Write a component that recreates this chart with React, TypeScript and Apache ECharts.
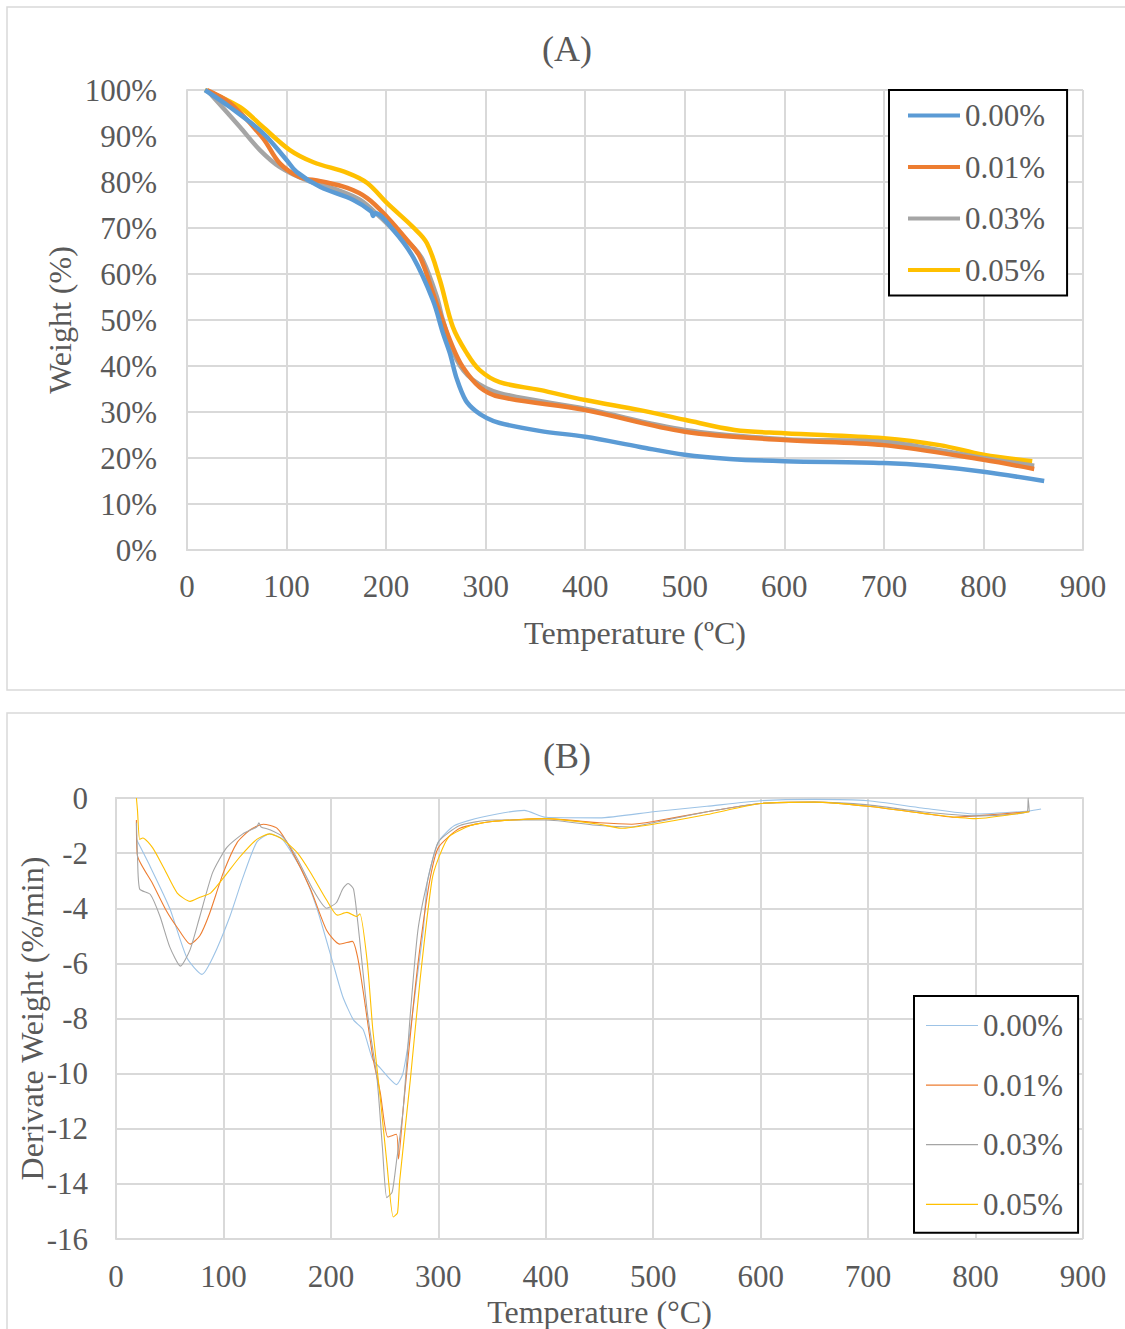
import React, { useEffect, useRef } from "react";
import * as echarts from "echarts";

// ---- Chart (A): TGA weight (%) vs temperature (°C)
const tgaNames = ["0.00%", "0.01%", "0.03%", "0.05%"];
const tga000 = [[18,100],[43,96.3],[76,90.7],[100,84.8],[110,82.2],[134,78.9],[167,76.1],[185,73.6],[187,72.6],[189,73.2],[207,69.6],[227,63.7],[247,54.3],[257,47.2],[264,42.8],[271,37.2],[280,32.5],[290,30.2],[301,28.7],[314,27.6],[354,25.9],[400,24.6],[455,22.4],[500,20.7],[545,19.8],[600,19.3],[700,18.9],[746,18.3],[800,17],[861,15]];
const tga001 = [[20,100],[43,97.2],[76,89.6],[93,84.1],[113,81.1],[134,80.2],[161,78.7],[181,76.5],[201,72.4],[221,67.4],[234,63.7],[247,55.9],[254,51.5],[267,44.1],[277,39.8],[294,35.4],[314,33.3],[400,30.4],[500,25.7],[600,23.9],[700,22.8],[800,19.6],[851,17.6]];
const tga003 = [[20,100],[53,92],[73,87],[93,83.3],[120,80.4],[151,78.3],[174,76.1],[194,72.4],[211,68.9],[227,65.9],[237,63],[251,55],[257,50],[271,41.3],[287,37],[314,34.1],[400,30.7],[500,26.1],[600,24.1],[700,23.5],[800,20],[851,18.3]];
const tga005 = [[18,100],[53,96.3],[76,92],[103,87],[127,84.3],[161,82],[181,79.8],[201,75.4],[227,70.2],[241,66.7],[254,58.7],[267,48.5],[281,42.8],[294,39.1],[314,36.5],[354,34.8],[400,32.6],[455,30.4],[500,28.3],[550,26.1],[600,25.4],[700,24.3],[756,22.8],[800,20.7],[849,19.3]];

// ---- Chart (B): DTG derivative weight (%/min) vs temperature (°C)
const dtg000 = [[19,-1.5],[32,-2.5],[50,-4],[66,-5.8],[80,-6.4],[90,-5.8],[106,-4.3],[118,-2.9],[131,-1.6],[143,-1.3],[155,-1.5],[174,-2.7],[187,-4],[202,-6],[211,-7.2],[221,-8.05],[230,-8.4],[239,-9.5],[246,-9.8],[255,-10.2],[261,-10.4],[267,-10],[274,-8.4],[280,-6.6],[286,-4.8],[290,-3],[300,-1.6],[315,-1.0],[340,-0.7],[380,-0.45],[400,-0.7],[450,-0.72],[500,-0.5],[550,-0.3],[600,-0.1],[650,-0.05],[700,-0.1],[750,-0.36],[800,-0.58],[850,-0.47],[861,-0.4]];
const dtg001 = [[19,-0.8],[20,-2.1],[34,-3.1],[47,-4.1],[57,-4.7],[69,-5.3],[78,-5],[87,-4.2],[100,-2.7],[113,-1.6],[125,-1.15],[137,-0.95],[150,-1.1],[162,-1.8],[181,-3.3],[196,-4.8],[208,-5.3],[220,-5.2],[225,-5.8],[230,-7],[239,-9.4],[246,-10.7],[253,-12.3],[261,-12.2],[263,-13.1],[267,-11.4],[276,-7.8],[283,-5.4],[292,-3],[300,-1.8],[320,-1.1],[350,-0.85],[400,-0.75],[450,-0.9],[480,-0.95],[500,-0.85],[550,-0.5],[600,-0.2],[650,-0.15],[700,-0.3],[750,-0.55],[780,-0.7],[800,-0.65],[850,-0.5]];
const dtg003 = [[19,-0.9],[20,-2.1],[22,-3.3],[32,-3.5],[41,-4.3],[50,-5.4],[60,-6.1],[69,-5.5],[78,-4.3],[90,-2.7],[103,-1.8],[118,-1.3],[131,-1.05],[133,-0.9],[135,-1.05],[143,-1.15],[155,-1.4],[168,-2.15],[183,-3.3],[196,-4],[205,-3.8],[211,-3.3],[216,-3.1],[221,-3.3],[225,-4.5],[234,-7.8],[243,-10.2],[248,-12.7],[252,-14.5],[257,-14.3],[261,-13.2],[267,-11.4],[274,-7.8],[281,-4.8],[290,-3],[300,-1.6],[320,-1.0],[350,-0.8],[400,-0.8],[450,-1.0],[480,-1.05],[500,-0.9],[550,-0.5],[600,-0.2],[650,-0.15],[700,-0.25],[750,-0.5],[800,-0.65],[848,-0.5],[849,0],[850,-0.5]];
const dtg005 = [[19,0],[20,-0.45],[22,-1.5],[25,-1.45],[34,-1.8],[44,-2.5],[57,-3.45],[69,-3.75],[78,-3.6],[88,-3.45],[100,-2.9],[115,-2.15],[131,-1.5],[143,-1.3],[155,-1.5],[169,-2],[181,-2.7],[196,-3.7],[206,-4.25],[215,-4.15],[224,-4.3],[227,-4.2],[234,-6],[239,-8.4],[246,-10.9],[252,-13.2],[258,-15.2],[262,-15.05],[264,-13.9],[274,-10.2],[283,-6.6],[294,-3],[300,-2.2],[310,-1.4],[330,-1.0],[350,-0.85],[400,-0.75],[450,-0.95],[470,-1.1],[500,-0.95],[550,-0.6],[600,-0.2],[650,-0.15],[700,-0.3],[750,-0.55],[800,-0.75],[850,-0.5]];

const colors = ["#5b9bd5", "#ed7d31", "#a5a5a5", "#ffc000"];
const dtgColors = ["#9dc3e6", "#ed7d31", "#a5a5a5", "#ffc000"];
const tempTicks = { min: 0, max: 900, interval: 100 };

const FONT = "'Liberation Serif', 'Times New Roman', serif";
const TXT = "#595959";
const GRID = "#d9d9d9";

export default function App() {
  const ref = useRef<HTMLDivElement>(null);
  useEffect(() => {
    if (!ref.current) return;
    const chart = echarts.init(ref.current, null, { renderer: "svg" });
    const tgaData = [tga000, tga001, tga003, tga005];
    const dtgData = [dtg000, dtg001, dtg003, dtg005];
    const axisCommon = {
      axisLine: { show: true, lineStyle: { color: GRID, width: 2 } },
      axisTick: { show: false },
      splitLine: { show: true, lineStyle: { color: GRID, width: 2 } },
      nameTextStyle: { fontFamily: FONT, fontSize: 32, color: TXT },
      nameMoveOverlap: false,
    };
    const tickLabel = { fontFamily: FONT, fontSize: 31, color: TXT };
    const series: any[] = [];
    tgaNames.forEach((n, i) => {
      series.push({
        name: "A" + n, type: "line", xAxisIndex: 0, yAxisIndex: 0,
        data: tgaData[i], smooth: 0.35, showSymbol: false, symbol: "none",
        lineStyle: { color: colors[i], width: 4.5 }, itemStyle: { color: colors[i] },
        z: 10 - i,
      });
    });
    tgaNames.forEach((n, i) => {
      series.push({
        name: "B" + n, type: "line", xAxisIndex: 1, yAxisIndex: 1,
        data: dtgData[i], smooth: 0.2, showSymbol: false, symbol: "none",
        lineStyle: { color: dtgColors[i], width: 1.1 }, itemStyle: { color: dtgColors[i] },
      });
    });
    chart.setOption({
      animation: false,
      textStyle: { fontFamily: FONT },
      title: [
        { text: "(A)", left: 562, top: 26, textAlign: "center", textStyle: { fontFamily: FONT, fontSize: 36, fontWeight: "normal", color: TXT } },
        { text: "(B)", left: 562, top: 733, textAlign: "center", textStyle: { fontFamily: FONT, fontSize: 36, fontWeight: "normal", color: TXT } },
      ],
      graphic: [
        { type: "rect", shape: { x: 7, y: 7, width: 1130, height: 683 }, style: { fill: "none", stroke: GRID, lineWidth: 1.5 }, silent: true, z: -10 },
        { type: "rect", shape: { x: 7, y: 713, width: 1130, height: 640 }, style: { fill: "none", stroke: GRID, lineWidth: 1.5 }, silent: true, z: -10 },
      ],
      grid: [
        { left: 187, top: 90, width: 896, height: 460, outerBoundsMode: "none", containLabel: false },
        { left: 116, top: 798, width: 967, height: 441, outerBoundsMode: "none", containLabel: false },
      ],
      legend: [
        {
          data: tgaNames.map((n) => "A" + n), formatter: (s: string) => s.slice(1),
          orient: "vertical", left: 889, top: 90, icon: "rect", itemWidth: 52, itemHeight: 4, itemGap: 20.5,
          padding: [10, 22, 10, 19], borderColor: "#000", borderWidth: 2, backgroundColor: "#fff",
          textStyle: { fontFamily: FONT, fontSize: 31, color: TXT }, selectedMode: false,
        },
        {
          data: tgaNames.map((n) => "B" + n), formatter: (s: string) => s.slice(1),
          orient: "vertical", left: 914, top: 996, icon: "rect", itemWidth: 52, itemHeight: 1.2, itemGap: 28.6,
          padding: [14, 15, 13, 12], borderColor: "#000", borderWidth: 2, backgroundColor: "#fff",
          textStyle: { fontFamily: FONT, fontSize: 31, color: TXT }, selectedMode: false,
        },
      ],
      xAxis: [
        {
          ...axisCommon, type: "value", gridIndex: 0, ...tempTicks,
          name: "Temperature (ºC)", nameLocation: "middle", nameGap: 67,
          axisLabel: { ...tickLabel, margin: 21 },
        },
        {
          ...axisCommon, type: "value", gridIndex: 1, ...tempTicks,
          name: "Temperature (°C)", nameLocation: "middle", nameGap: 57,
          axisLabel: { ...tickLabel, margin: 22 },
        },
      ],
      yAxis: [
        {
          ...axisCommon, type: "value", gridIndex: 0, min: 0, max: 100, interval: 10,
          name: "Weight (%)", nameLocation: "middle", nameGap: 111, nameRotate: 90,
          axisLabel: { ...tickLabel, margin: 30, formatter: "{value}%" },
        },
        {
          ...axisCommon, type: "value", gridIndex: 1, min: -16, max: 0, interval: 2,
          name: "Derivate Weight (%/min)", nameLocation: "middle", nameGap: 68, nameRotate: 90,
          axisLabel: { ...tickLabel, margin: 28 },
        },
      ],
      series,
    });
    return () => chart.dispose();
  }, []);
  return (
    <div
      ref={ref}
      style={{ position: "absolute", left: 0, top: 0, width: 1125, height: 1329, background: "#fff" }}
    />
  );
}
